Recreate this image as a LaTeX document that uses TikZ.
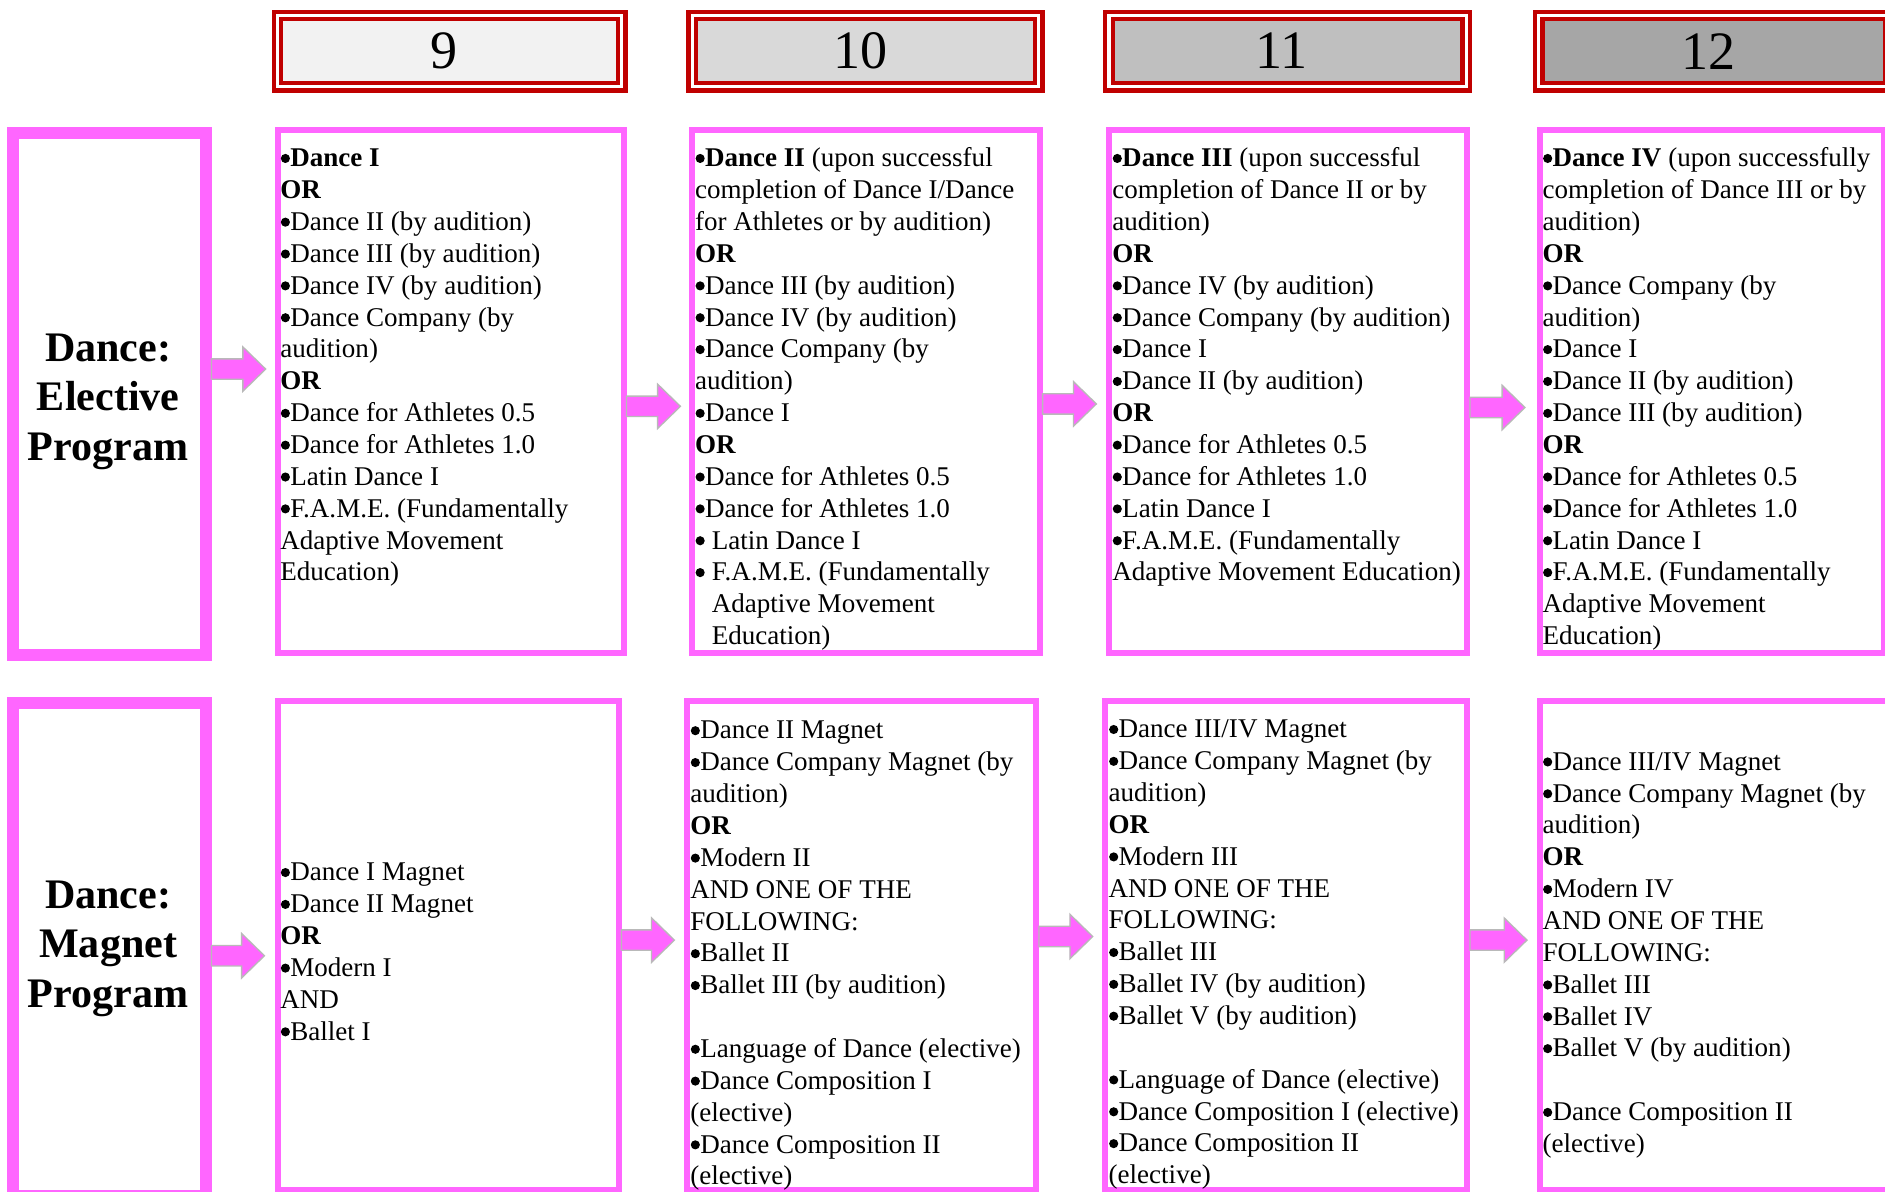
\documentclass[tikz,border=0pt]{standalone}
\usepackage{fontspec}
\setmainfont{Liberation Serif}
\usetikzlibrary{calc}
\definecolor{pinkc}{HTML}{FF66FF}
\definecolor{hdrred}{HTML}{C00000}
\definecolor{fillA}{HTML}{F2F2F2}
\definecolor{fillB}{HTML}{D9D9D9}
\definecolor{fillC}{HTML}{BFBFBF}
\definecolor{fillD}{HTML}{A6A6A6}
\newcommand{\fatarrow}[2]{%
  \path[arrowsty] ($(#1)+(0,-8.5)$) -- ($(#2)+(-19,-8.5)$) -- ($(#2)+(-19,-18.5)$) -- (#2)
    -- ($(#2)+(-19,18.5)$) -- ($(#2)+(-19,8.5)$) -- ($(#1)+(0,8.5)$) -- cycle;}
\newcommand{\fl}{\rule{0pt}{18.5pt}}
\newcommand{\lfl}{\rule{0pt}{28pt}}
\newcommand{\bul}{\tikz[baseline=0pt,x=1pt,y=1pt]{\path[use as bounding box] (0,0) rectangle (8.3,0.1);\fill[black] (4.2,6.9) circle[radius=3.8];}}
\begin{document}
\begin{tikzpicture}[x=1pt,y=-1pt,
  hdr/.style={rectangle, draw=hdrred, line width=3.5pt, double=white, double distance=2.8pt,
    inner sep=0pt, font=\fontsize{45}{50}\selectfont},
  pinkbox/.style={rectangle, draw=pinkc, line width=5pt, fill=white, inner sep=0pt},
  labelbox/.style={rectangle, draw=pinkc, line width=10pt, fill=white, inner sep=0pt},
  body/.style={font=\fontsize{22.5}{26.5}\selectfont, align=left, anchor=north west, inner sep=0pt},
  labeltext/.style={font=\fontsize{35}{41}\selectfont\bfseries, align=center, anchor=north, inner sep=0pt},
  arrowsty/.style={fill=pinkc, draw=gray!55, line width=1.1pt, line join=miter}]
\useasboundingbox (0,0) rectangle (1568,991);
\clip (0,0) rectangle (1568,991);

% header boxes
\node[hdr, fill=fillA, minimum width=286.2pt, minimum height=59.2pt] (h9) at (374,42.5) {9\hspace*{10pt}};
\node[hdr, fill=fillB, minimum width=288.2pt, minimum height=59.2pt] (h10) at (720,42.5) {10\hspace*{8pt}};
\node[hdr, fill=fillC, minimum width=297.2pt, minimum height=59.2pt] (h11) at (1071,42.5) {11\hspace*{10pt}};
\node[hdr, fill=fillD, minimum width=291pt, minimum height=59.2pt] (h12) at (1425.5,42.5) {12\hspace*{8pt}};

% top row boxes
\node[labelbox, minimum width=159.8pt, minimum height=434.1pt] (elec) at (91.1,327.75) {};
\node[pinkbox, minimum width=287.7pt, minimum height=434.7pt] (t9) at (374.85,325.55) {};
\node[pinkbox, minimum width=289.3pt, minimum height=434.7pt] (t10) at (720.15,325.55) {};
\node[pinkbox, minimum width=297.7pt, minimum height=434.7pt] (t11) at (1071.35,325.55) {};
\node[pinkbox, minimum width=286pt, minimum height=434.7pt] (t12) at (1424,325.55) {};

% bottom row boxes
\node[labelbox, minimum width=159.8pt, minimum height=410pt] (mag) at (91.1,790) {};
\node[pinkbox, minimum width=283.5pt, minimum height=406pt] (b9) at (372.75,786.5) {};
\node[pinkbox, minimum width=290.3pt, minimum height=406pt] (b10) at (716.65,786.5) {};
\node[pinkbox, minimum width=300.7pt, minimum height=406pt] (b11) at (1069.85,786.5) {};
\node[pinkbox, minimum width=296.8pt, minimum height=406pt] (b12) at (1429.1,786.5) {};

% arrow end points
\coordinate (a1s) at (elec.east |- 0,307);  \coordinate (a1e) at ($(t9.west |- 0,307)+(-7.5,0)$);
\coordinate (a2s) at (t9.east |- 0,338);    \coordinate (a2e) at ($(t10.west |- 0,338)+(-7,0)$);
\coordinate (a3s) at (t10.east |- 0,336);   \coordinate (a3e) at ($(t11.west |- 0,336)+(-8,0)$);
\coordinate (a4s) at (t11.east |- 0,339);   \coordinate (a4e) at ($(t12.west |- 0,339)+(-10,0)$);
\coordinate (b1s) at (mag.east |- 0,795);   \coordinate (b1e) at ($(b9.west |- 0,795)+(-8.5,0)$);
\coordinate (b2s) at (b9.east |- 0,782);    \coordinate (b2e) at ($(b10.west |- 0,782)+(-8,0)$);
\coordinate (b3s) at (b10.east |- 0,779);   \coordinate (b3e) at ($(b11.west |- 0,779)+(-8,0)$);
\coordinate (b4s) at (b11.east |- 0,782);   \coordinate (b4e) at ($(b12.west |- 0,782)+(-8,0)$);
\fatarrow{a1s}{a1e}
\fatarrow{a2s}{a2e}
\fatarrow{a3s}{a3e}
\fatarrow{a4s}{a4e}
\fatarrow{b1s}{b1e}
\fatarrow{b2s}{b2e}
\fatarrow{b3s}{b3e}
\fatarrow{b4s}{b4e}

% labels
\node[labeltext] (elecT) at (90,272.5) {\lfl Dance:\\Elective\\Program};
\node[labeltext] (magT) at (90,727.5) {\lfl Dance:\\Magnet\\Program};

% top row texts
\node[body] (t9T) at (233,120) {\fl\bul\textbf{Dance I}\\
\textbf{OR}\\
\bul Dance II (by audition)\\
\bul Dance III (by audition)\\
\bul Dance IV (by audition)\\
\bul Dance Company (by\\
audition)\\
\textbf{OR}\\
\bul Dance for Athletes 0.5\\
\bul Dance for Athletes 1.0\\
\bul Latin Dance I\\
\bul F.A.M.E. (Fundamentally\\
Adaptive Movement\\
Education)};

\node[body] (t10T) at (578,120) {\fl\bul\textbf{Dance II} (upon successful\\
completion of Dance I/Dance\\
for Athletes or by audition)\\
\textbf{OR}\\
\bul Dance III (by audition)\\
\bul Dance IV (by audition)\\
\bul Dance Company (by\\
audition)\\
\bul Dance I\\
\textbf{OR}\\
\bul Dance for Athletes 0.5\\
\bul Dance for Athletes 1.0\\
\bul{} Latin Dance I\\
\bul{} F.A.M.E. (Fundamentally\\
\hspace*{13.9pt}Adaptive Movement\\
\hspace*{13.9pt}Education)};

\node[body] (t11T) at (925,120) {\fl\bul\textbf{Dance III} (upon successful\\
completion of Dance II or by\\
audition)\\
\textbf{OR}\\
\bul Dance IV (by audition)\\
\bul Dance Company (by audition)\\
\bul Dance I\\
\bul Dance II (by audition)\\
\textbf{OR}\\
\bul Dance for Athletes 0.5\\
\bul Dance for Athletes 1.0\\
\bul Latin Dance I\\
\bul F.A.M.E. (Fundamentally\\
Adaptive Movement Education)};

\node[body] (t12T) at (1283,120) {\fl\bul\textbf{Dance IV} (upon successfully\\
completion of Dance III or by\\
audition)\\
\textbf{OR}\\
\bul Dance Company (by\\
audition)\\
\bul Dance I\\
\bul Dance II (by audition)\\
\bul Dance III (by audition)\\
\textbf{OR}\\
\bul Dance for Athletes 0.5\\
\bul Dance for Athletes 1.0\\
\bul Latin Dance I\\
\bul F.A.M.E. (Fundamentally\\
Adaptive Movement\\
Education)};

% bottom row texts
\node[body] (b9T) at (233,714) {\fl\bul Dance I Magnet\\
\bul Dance II Magnet\\
\textbf{OR}\\
\bul Modern I\\
AND\\
\bul Ballet I};

\node[body] (b10T) at (574,596) {\fl\bul Dance II Magnet\\
\bul Dance Company Magnet (by\\
audition)\\
\textbf{OR}\\
\bul Modern II\\
AND ONE OF THE\\
FOLLOWING:\\
\bul Ballet II\\
\bul Ballet III (by audition)\\
\mbox{}\\
\bul Language of Dance (elective)\\
\bul Dance Composition I\\
(elective)\\
\bul Dance Composition II\\
(elective)};

\node[body] (b11T) at (922,595) {\fl\bul Dance III/IV Magnet\\
\bul Dance Company Magnet (by\\
audition)\\
\textbf{OR}\\
\bul Modern III\\
AND ONE OF THE\\
FOLLOWING:\\
\bul Ballet III\\
\bul Ballet IV (by audition)\\
\bul Ballet V (by audition)\\
\mbox{}\\
\bul Language of Dance (elective)\\
\bul Dance Composition I (elective)\\
\bul Dance Composition II\\
(elective)};

\node[body] (b12T) at (1283,622) {\fl\bul Dance III/IV Magnet\\
\bul Dance Company Magnet (by\\
audition)\\
\textbf{OR}\\
\bul Modern IV\\
AND ONE OF THE\\
FOLLOWING:\\
\bul Ballet III\\
\bul Ballet IV\\
\bul Ballet V (by audition)\\
\mbox{}\\
\bul Dance Composition II\\
(elective)};
\end{tikzpicture}
\end{document}
